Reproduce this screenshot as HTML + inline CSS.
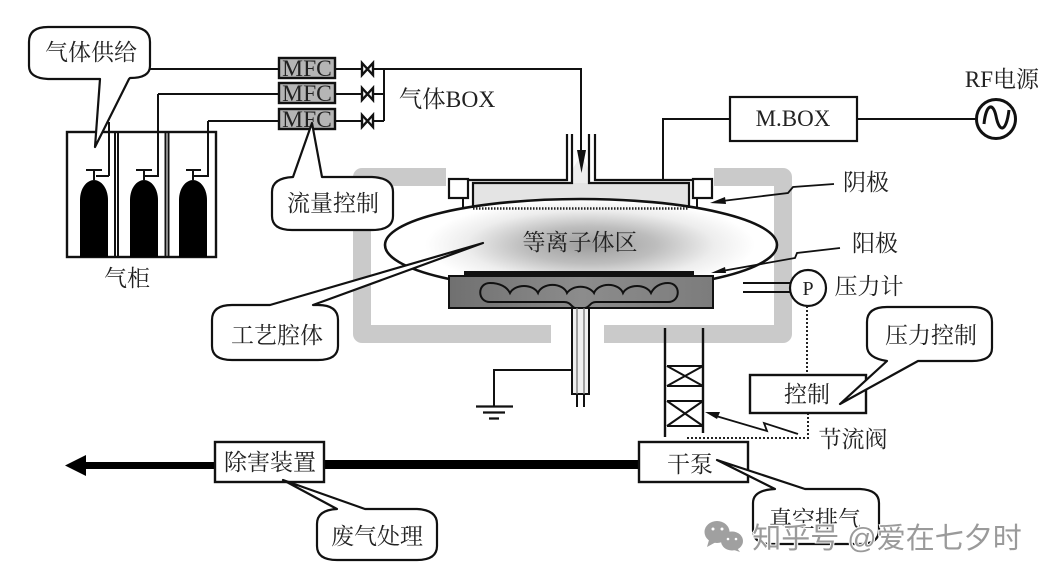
<!DOCTYPE html>
<html>
<head>
<meta charset="utf-8">
<style>
html,body{margin:0;padding:0;background:#fff;width:1047px;height:580px;overflow:hidden}
svg{display:block;filter:blur(.35px)}
text{font-family:"Liberation Serif","Noto Serif CJK SC",serif;fill:#222;text-anchor:middle}
.l{fill:none;stroke:#111;stroke-width:2}
.b{fill:#fff;stroke:#111;stroke-width:2.2;stroke-linejoin:round}
.t{font-size:23px}
.a{fill:none;stroke:#111;stroke-width:1.8}
</style>
</head>
<body>
<svg width="1047" height="580" viewBox="0 0 1047 580" xmlns="http://www.w3.org/2000/svg">
<defs>
<radialGradient id="pl" cx="0.5" cy="0.5" r="0.5">
<stop offset="0" stop-color="#9c9c9c"/>
<stop offset="0.4" stop-color="#bdbdbd"/>
<stop offset="0.75" stop-color="#ededed"/>
<stop offset="1" stop-color="#fff"/>
</radialGradient>
<linearGradient id="pg" x1="0" x2="1" y1="0" y2="0">
<stop offset="0" stop-color="#707070"/>
<stop offset="0.5" stop-color="#8c8c8c"/>
<stop offset="1" stop-color="#7c7c7c"/>
</linearGradient>
<clipPath id="ec"><ellipse cx="581" cy="245" rx="196" ry="46"/></clipPath>
</defs>

<!-- gray chamber -->
<path d="M446,177 H362 V334 H551" fill="none" stroke="#cacaca" stroke-width="18" stroke-linejoin="round"/>
<path d="M604,334 H783 V177 H714" fill="none" stroke="#cacaca" stroke-width="18" stroke-linejoin="round"/>

<!-- gas lines -->
<path class="l" d="M150,69 H279 M109,176 H96 M109,176 V122 M158,94 H279 M158,94 V176 H144 M208,121 H279 M208,121 V176 H194"/>
<path class="l" d="M335,69 H581 V160 M335,94 H384 M335,121 H384 M384,69 V121"/>

<!-- gas cabinet -->
<rect x="67" y="132" width="149" height="125" fill="none" stroke="#111" stroke-width="2.400"/>
<path class="l" style="stroke-width:2" d="M115,132 V257 M118,132 V257 M165.500,132 V257 M168.500,132 V257"/>
<g fill="#000">
<path d="M80,257 V200 C80,188 87,180 94,180 C101,180 108,188 108,200 V257 Z"/>
<path d="M130,257 V200 C130,188 137,180 144,180 C151,180 158,188 158,200 V257 Z"/>
<path d="M179,257 V200 C179,188 186,180 193,180 C200,180 207,188 207,200 V257 Z"/>
</g>
<path class="l" d="M86,170 H102 M94,170 V181 M136,170 H152 M144,170 V181 M186,170 H201 M193,170 V181"/>
<text class="t" x="127" y="286">气柜</text>

<!-- supply bubble -->
<path class="b" d="M48,27 H130 Q150,27 150,42 V66 Q150,78 130,78 L129,79 L95,147 L100,79 H48 Q29,78 29,66 V42 Q29,27 48,27 Z"/>
<text class="t" x="91" y="60">气体供给</text>

<!-- MFC -->
<g fill="#b5b5b5" stroke="#111" stroke-width="2.400">
<rect x="279" y="58" width="56" height="20"/>
<rect x="279" y="83" width="56" height="20"/>
<rect x="279" y="109" width="56" height="20"/>
</g>
<g font-size="23.500">
<text x="307" y="76">MFC</text>
<text x="307" y="101">MFC</text>
<text x="307" y="127">MFC</text>
</g>
<!-- valves -->
<g fill="#fff" stroke="#111" stroke-width="2.400">
<path d="M362,63 L373,75 V63 L362,75 Z"/>
<path d="M362,88 L373,100 V88 L362,100 Z"/>
<path d="M362,115 L373,127 V115 L362,127 Z"/>
</g>
<text x="447" y="107" font-size="23.500">气体BOX</text>

<!-- flow bubble -->
<path class="b" d="M293,177 L312,123 L322,177 H372 Q393,178 393,192 V216 Q393,230 372,230 H292 Q272,230 272,216 V192 Q272,178 293,177 Z"/>
<text class="t" x="333" y="211">流量控制</text>

<!-- electrode fill (behind plasma) -->
<rect x="473" y="183" width="216" height="26" fill="#e4e4e4"/>
<path d="M572,183 V170 L578,160 H584 L589,170 V183 Z" fill="#ededed"/>

<!-- plasma -->
<ellipse cx="581" cy="245" rx="196" ry="46" fill="#fff"/>
<g clip-path="url(#ec)">
<ellipse cx="590" cy="245" rx="165" ry="46" fill="url(#pl)"/>
</g>
<ellipse cx="581" cy="245" rx="196" ry="46" fill="none" stroke="#111" stroke-width="2.600"/>
<path d="M473,208.500 H689" stroke="#222" stroke-width="2.500" stroke-dasharray="1.500 1.500" fill="none"/>

<!-- electrode -->
<path class="l" style="stroke-width:2.200" d="M567,134 V180 H462 M572,134 V183 H473 V208 M595,134 V180 H700 M589,134 V183 H689 V208"/>
<path d="M577,150 L586,150 L581.500,173 Z" fill="#111"/>
<rect x="449" y="179" width="19" height="19" fill="#fff" stroke="#111" stroke-width="2.200"/>
<rect x="693" y="179" width="19" height="19" fill="#fff" stroke="#111" stroke-width="2.200"/>
<path class="l" d="M463,198 V208 M697,198 V208"/>
<path class="l" d="M663,180 V119 H730"/>

<text x="580" y="250" font-size="23">等离子体区</text>

<!-- plate -->
<rect x="464" y="271" width="230" height="5" fill="#111"/>
<rect x="449" y="276" width="264" height="32" fill="url(#pg)" stroke="#111" stroke-width="2"/>
<path d="M490,302 C477,302 477,283 490,283 C500,283 507,287 510,293 A15,11 0 0 1 538,293 A15,11 0 0 1 567,293 A15,11 0 0 1 594,293 A15,11 0 0 1 623,293 A15,11 0 0 1 651,293 C654,287 660,283 668,283 C681,283 681,302 668,302 H596 C590,302 590,307 585,308 H575 C571,307 571,302 564,302 Z" fill="none" stroke="#111" stroke-width="2"/>

<!-- shaft -->
<rect x="572" y="308" width="17" height="86" fill="#f0f0f0" stroke="#111" stroke-width="2"/>
<path d="M577,308 V394 M584,308 V394" stroke="#777" stroke-width="1.300" fill="none"/>
<path class="l" d="M577,394 V407 M584,394 V407 M572,370 H494 V406"/>
<path class="l" style="stroke-width:2.200" d="M476,406.500 H513 M483,412.500 H505 M489,418.500 H499"/>

<!-- process bubble -->
<path class="b" d="M232,305 H270 L483,243 L313,305 H318 Q338,305 338,320 V346 Q338,360 318,360 H232 Q212,360 212,346 V320 Q212,305 232,305 Z"/>
<text class="t" x="277" y="343">工艺腔体</text>

<!-- callout arrows -->
<path class="a" d="M834,184 L793,187 L788,193 L722,201"/>
<path d="M710,203 L725,197 L726,204 Z" fill="#111"/>
<text class="t" x="866" y="190">阴极</text>
<path class="a" d="M840,248 L797,253 L795,258 L722,271"/>
<path d="M711,273 L725,267 L726,273 Z" fill="#111"/>
<text class="t" x="875" y="251">阳极</text>

<!-- M.BOX RF -->
<rect x="730" y="97" width="127" height="44" fill="#fff" stroke="#111" stroke-width="2.200"/>
<text x="793" y="126" font-size="23">M.BOX</text>
<path class="l" d="M857,119 H976"/>
<circle cx="996" cy="119" r="19.500" fill="#fff" stroke="#111" stroke-width="3"/>
<path d="M984,124 C986,104 993,102 996,116 C999,132 1006,134 1009,110" fill="none" stroke="#111" stroke-width="3"/>
<text x="1002" y="87" font-size="23">RF电源</text>

<!-- pressure -->
<path class="l" d="M743,283 H790 M743,292 H790"/>
<circle cx="808" cy="288" r="18" fill="#fff" stroke="#111" stroke-width="2.200"/>
<text x="808" y="295" font-size="20">P</text>
<text class="t" x="869" y="294">压力计</text>
<path d="M807,306 V375 M808,413 V438 H686" fill="none" stroke="#222" stroke-width="2" stroke-dasharray="2 2"/>
<rect x="750" y="375" width="116" height="38" fill="#fff" stroke="#111" stroke-width="2.400"/>
<text class="t" x="807" y="402">控制</text>
<path class="b" d="M887,361 L840,404 L918,361 H972 Q992,361 992,348 V322 Q992,307 972,307 H887 Q867,307 867,322 V346 Q867,358 887,361 Z"/>
<text class="t" x="931" y="343">压力控制</text>

<!-- exhaust pipe -->
<path class="l" style="stroke-width:2.400" d="M665,328 V437 M703,328 V433"/>
<path class="l" d="M667,366 H703 M667,386 H703 M667,366 L703,386 M703,366 L667,386"/>
<path class="l" d="M667,401 H703 M667,426 H703 M667,401 L703,426 M703,401 L667,426"/>
<path class="a" d="M798,434 L764,423 L767,431 L716,416"/>
<path d="M705,412 L720,412 L717,419 Z" fill="#111"/>
<text class="t" x="853" y="447">节流阀</text>

<!-- bottom line -->
<rect x="320" y="460" width="320" height="9" fill="#000"/>
<rect x="84" y="462" width="132" height="7" fill="#000"/>
<path d="M65,465.500 L86,455 V476 Z" fill="#000"/>
<rect x="215" y="442" width="109" height="40" fill="#fff" stroke="#111" stroke-width="2.400"/>
<text class="t" x="270" y="470">除害装置</text>
<rect x="639" y="442" width="109" height="40" fill="#fff" stroke="#111" stroke-width="2.400"/>
<text class="t" x="690" y="472">干泵</text>

<!-- waste bubble -->
<path class="b" d="M337,509 L283,480 L365,509 H417 Q437,510 437,524 V546 Q437,560 417,560 H337 Q317,560 317,546 V524 Q317,510 337,509 Z"/>
<text class="t" x="377" y="544">废气处理</text>

<!-- vacuum bubble -->
<path class="b" d="M775,489 L717,460 L805,489 H860 Q879,490 879,503 V530 Q879,544 860,544 H772 Q753,544 753,530 V503 Q753,490 775,489 Z"/>
<text class="t" x="815" y="527">真空排气</text>

<!-- watermark -->
<g fill="#a0a0a0">
<ellipse cx="717" cy="532" rx="12.500" ry="11"/>
<path d="M709,540 L707,547 L716,542 Z"/>
<ellipse cx="732" cy="541" rx="11" ry="9.500"/>
<path d="M737,548 L740,552 L731,549 Z"/>
</g>
<g fill="#fff">
<circle cx="713" cy="529" r="1.500"/><circle cx="722" cy="529" r="1.500"/>
<circle cx="728" cy="539" r="1.300"/><circle cx="736" cy="539" r="1.300"/>
</g>
<text x="887" y="548" font-size="29" style="font-family:'Liberation Sans','Noto Sans CJK SC',sans-serif;fill:#9a9a9a;stroke:#fff;stroke-width:2;paint-order:stroke">知乎号 @爱在七夕时</text>
</svg>
</body>
</html>
